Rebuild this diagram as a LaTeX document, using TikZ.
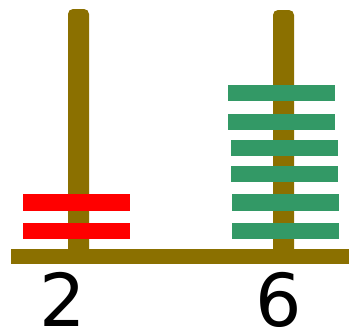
\documentclass[tikz,border=0pt]{standalone}
\usepackage{fontspec}
\setmainfont{DejaVu Sans}
\definecolor{pole}{RGB}{139,112,0}
\definecolor{diskred}{RGB}{255,0,0}
\definecolor{diskgreen}{RGB}{51,153,102}
\begin{document}
\begin{tikzpicture}[x=1pt,y=-1pt,
  polestyle/.style={fill=pole,draw=none,rounded corners=5pt},
  basestyle/.style={fill=pole,draw=none},
  reddisk/.style={fill=diskred,draw=none},
  greendisk/.style={fill=diskgreen,draw=none},
  countlabel/.style={font=\fontsize{73}{78}\selectfont,inner sep=0pt,anchor=base}]
\useasboundingbox (0,0) rectangle (349,332);
% poles
\fill[polestyle] (68,256) -- (68,9) -- (89,9) -- (89,256) [sharp corners] -- cycle;
\fill[polestyle] (273,256) -- (273,10) -- (294,10) -- (294,256) [sharp corners] -- cycle;
% base
\fill[basestyle] (11,249) rectangle (349,264);
% red disks
\fill[reddisk] (23,194) rectangle (130,211);
\fill[reddisk] (23,223) rectangle (130,239);
% green disks
\fill[greendisk] (228,85) rectangle (335,101);
\fill[greendisk] (228,114) rectangle (335,130);
\fill[greendisk] (231,140) rectangle (338,156);
\fill[greendisk] (231,166) rectangle (338,182);
\fill[greendisk] (232,194) rectangle (339,211);
\fill[greendisk] (232,223) rectangle (339,239);
% labels
\node[countlabel] (l2) at (62.5,326) {2};
\node[countlabel] (l6) at (279,326) {6};
\end{tikzpicture}
\end{document}
